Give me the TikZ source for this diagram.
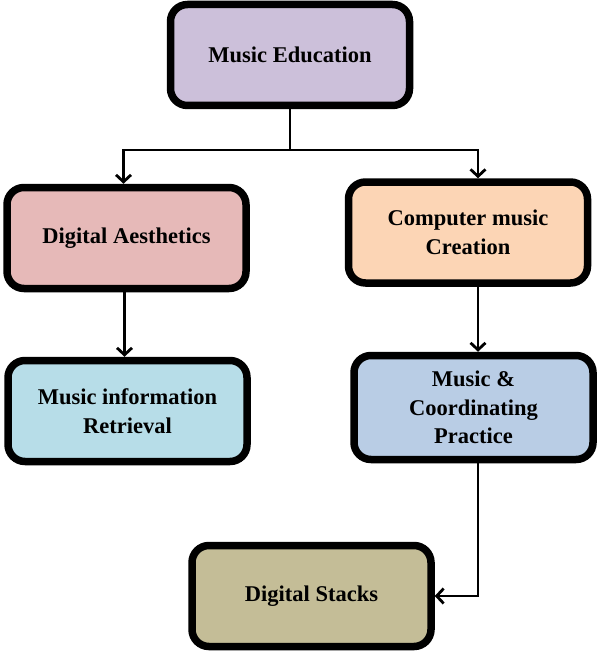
\documentclass[tikz,border=0pt]{standalone}
\usepackage{fontspec}
\setmainfont{Liberation Serif}
\usepackage{xcolor}
\usetikzlibrary{arrows.meta,positioning,calc}
\definecolor{lavender}{HTML}{CCC0DA}
\definecolor{rosepink}{HTML}{E6B9B8}
\definecolor{peach}{HTML}{FCD5B5}
\definecolor{paleblue}{HTML}{B7DDE8}
\definecolor{steelblue}{HTML}{B9CDE5}
\definecolor{khaki}{HTML}{C4BD97}
\begin{document}
\begin{tikzpicture}[x=1pt,y=-1pt,
  topic/.style={draw=black,line width=7.5pt,rounded corners=17pt,minimum width=239pt,
    minimum height=101pt,align=center,font=\fontsize{22.5}{28.5}\selectfont\bfseries},
  link/.style={line width=2.8pt},
  arrow/.style={link,-{Straight Barb[length=7pt,width=15pt,line width=2.8pt]}}]
\useasboundingbox (0,0) rectangle (599,655);
\node[topic,fill=lavender] (edu) at (290,55) {Music Education};
\node[topic,fill=rosepink] (aes) at (126.5,238) {Digital Aesthetics};
\node[topic,fill=peach] (comp) at (468,232.5) {Computer music\\Creation};
\node[topic,fill=paleblue] (mir) at (127.5,411) {Music information\\Retrieval};
\node[topic,fill=steelblue,minimum height=104pt] (coord) at (473.5,407.5) {Music \&\\Coordinating\\Practice};
\node[topic,fill=khaki] (stacks) at (311.5,596) {Digital Stacks};
\coordinate (split) at (290,150);
\draw[link] (edu.south) -- (split);
\draw[arrow] (split) -| ([xshift=-3pt]aes.north);
\draw[arrow] (split) -| ([xshift=10pt]comp.north);
\draw[arrow] ([xshift=-2pt]aes.south) -- ([xshift=-3pt]mir.north);
\draw[arrow] ([xshift=10pt]comp.south) -- ([xshift=4.5pt]coord.north);
\draw[arrow] ([xshift=4.5pt]coord.south) |- (stacks.east);
\end{tikzpicture}
\end{document}
